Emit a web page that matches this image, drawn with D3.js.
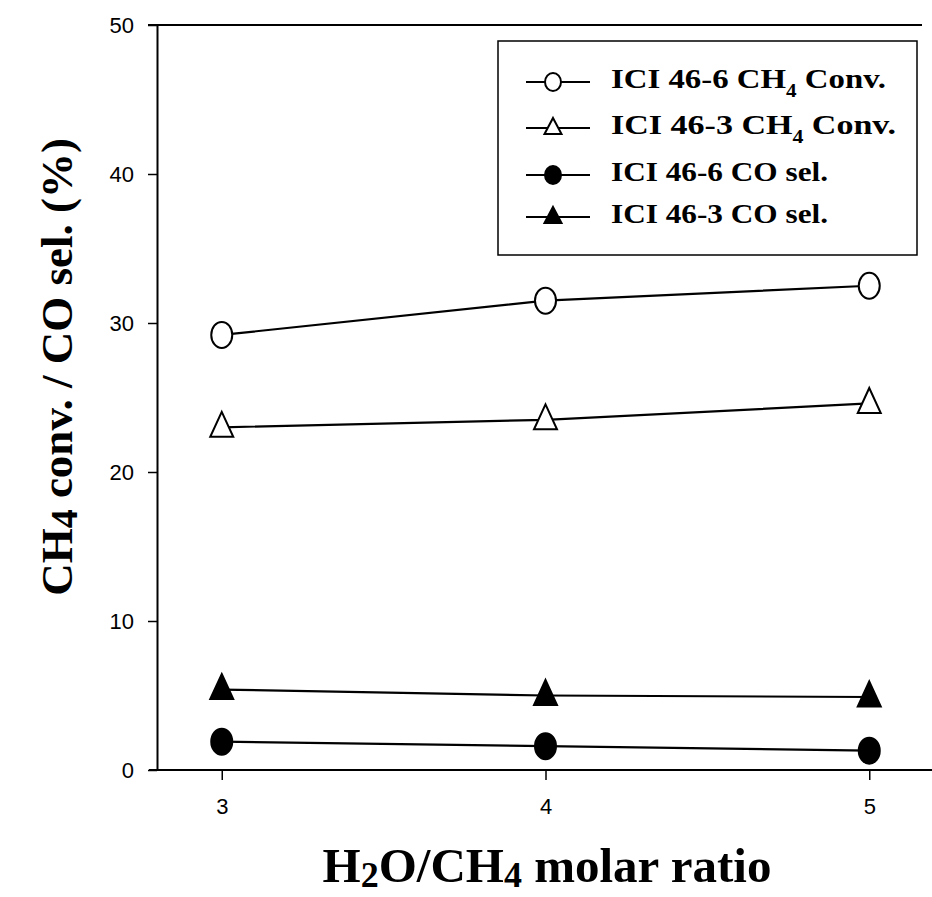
<!DOCTYPE html>
<html lang="en">
<head>
<meta charset="UTF-8">
<script src="https://d3js.org/d3.v7.min.js"></script>
<style>
  body { margin: 0; background: #fff; }
  .tick text { font-family: "Liberation Sans", Arial, sans-serif; font-size: 22px; fill: #000; }
  .ttl { font-family: "Liberation Serif", "Times New Roman", serif; font-weight: bold; fill: #000; }
</style>
</head>
<body>
<div id="chart"></div>
<script>
// data
var ratios = [3, 4, 5];
var conv46_6 = [29.2, 31.5, 32.5];
var conv46_3 = [23.0, 23.5, 24.6];
var sel46_6 = [1.9, 1.6, 1.3];
var sel46_3 = [5.4, 5.0, 4.9];
var yTicks = [0, 10, 20, 30, 40, 50];

var series = [
  {name: "ICI 46-6 CH", sub: "4", tail: " Conv.", vals: conv46_6, shape: "circle", fill: "#fff", len: 275},
  {name: "ICI 46-3 CH", sub: "4", tail: "  Conv.", vals: conv46_3, shape: "triangle", fill: "#fff", len: 285},
  {name: "ICI 46-6 CO sel.", sub: "", tail: "", vals: sel46_6, shape: "circle", fill: "#000", len: 217},
  {name: "ICI 46-3 CO sel.", sub: "", tail: "", vals: sel46_3, shape: "triangle", fill: "#000", len: 217}
];

var W = 932, H = 897;
var margin = {left: 157, top: 25, right: 0, bottom: 127};

var svg = d3.select("#chart").append("svg")
  .attr("width", W).attr("height", H);

var x = d3.scaleLinear().domain([2.8, 5.2]).range([margin.left, 934]);
var y = d3.scaleLinear().domain([0, 50]).range([H - margin.bottom, margin.top]);

// axes
svg.append("g")
  .attr("transform", "translate(0," + y(0) + ")")
  .call(d3.axisBottom(x).tickValues(ratios).tickFormat(d3.format("d")).tickSize(10).tickPadding(18).tickSizeOuter(0))
  .call(g => g.select(".domain").attr("stroke-width", 2).attr("d", "M" + (margin.left - 8) + ",0H932"))
  .call(g => g.selectAll(".tick line").attr("stroke-width", 1.5));

svg.append("g")
  .attr("transform", "translate(" + margin.left + ",0)")
  .call(d3.axisLeft(y).tickValues(yTicks).tickSize(9).tickPadding(14).tickSizeOuter(0))
  .call(g => g.select(".domain").attr("stroke-width", 2))
  .call(g => g.selectAll(".tick line").attr("stroke-width", 1.5));

// top frame line
svg.append("line")
  .attr("x1", margin.left - 9).attr("x2", 922)
  .attr("y1", y(50)).attr("y2", y(50))
  .attr("stroke", "#000").attr("stroke-width", 2);

// slightly tall markers, as in the scan
function marker(sel, shape, fill, w, h) {
  if (shape === "circle") {
    sel.append("ellipse").attr("rx", w / 2).attr("ry", h / 2);
  } else {
    sel.append("path").attr("d", "M0," + (-h / 2) + "L" + (w / 2) + "," + (h / 2) + "L" + (-w / 2) + "," + (h / 2) + "Z");
  }
  sel.selectAll("*").attr("fill", fill).attr("stroke", "#000").attr("stroke-width", 2);
}

var line = d3.line().x((d, i) => x(ratios[i])).y(d => y(d));

series.forEach(function(s) {
  svg.append("path")
    .attr("d", line(s.vals))
    .attr("fill", "none").attr("stroke", "#000").attr("stroke-width", 2.2);
  s.vals.forEach(function(v, i) {
    var g = svg.append("g").attr("transform", "translate(" + x(ratios[i]) + "," + (y(v) + (s.shape === "triangle" ? -3 : 0)) + ")");
    if (s.shape === "circle") marker(g, s.shape, s.fill, 21, 26);
    else marker(g, s.shape, s.fill, 23, 25);
  });
});

// legend
var lg = svg.append("g");
lg.append("rect")
  .attr("x", 498).attr("y", 41).attr("width", 419).attr("height", 214)
  .attr("fill", "#fff").attr("stroke", "#000").attr("stroke-width", 1.5);
var rowsY = [82, 128, 175, 217];
series.forEach(function(s, i) {
  var r = lg.append("g").attr("transform", "translate(0," + rowsY[i] + ")");
  r.append("line").attr("x1", 526).attr("x2", 590).attr("y1", 0).attr("y2", 0)
    .attr("stroke", "#000").attr("stroke-width", 2);
  var m = r.append("g").attr("transform", "translate(553," + (s.shape === "triangle" ? -2 : 0) + ")");
  if (s.shape === "circle") marker(m, s.shape, s.fill, 16, 18);
  else marker(m, s.shape, s.fill, 17, 16);
  var t = r.append("text").attr("class", "ttl").attr("x", 611).attr("y", 6)
    .attr("textLength", s.len).attr("lengthAdjust", "spacingAndGlyphs")
    .style("font-size", "28px");
  t.append("tspan").text(s.name);
  if (s.sub) {
    t.append("tspan").text(s.sub).attr("dy", 9).style("font-size", "18px");
    t.append("tspan").text(s.tail).attr("dy", -9);
  }
});

// y title
var yt = svg.append("text").attr("class", "ttl")
  .attr("transform", "translate(72,367) rotate(-90)")
  .attr("text-anchor", "middle")
  .style("font-size", "45px");
yt.append("tspan").text("CH");
yt.append("tspan").text("4").attr("dy", 5).style("font-size", "38px");
yt.append("tspan").text(" conv. / CO sel. (%)").attr("dy", -5);

// x title
var xt = svg.append("text").attr("class", "ttl")
  .attr("x", 547).attr("y", 882)
  .attr("text-anchor", "middle")
  .style("font-size", "49px");
xt.append("tspan").text("H");
xt.append("tspan").text("2").attr("dy", 5).style("font-size", "36px");
xt.append("tspan").text("O/CH").attr("dy", -5);
xt.append("tspan").text("4").attr("dy", 5).style("font-size", "36px");
xt.append("tspan").text(" molar ratio").attr("dy", -5);
</script>
</body>
</html>
